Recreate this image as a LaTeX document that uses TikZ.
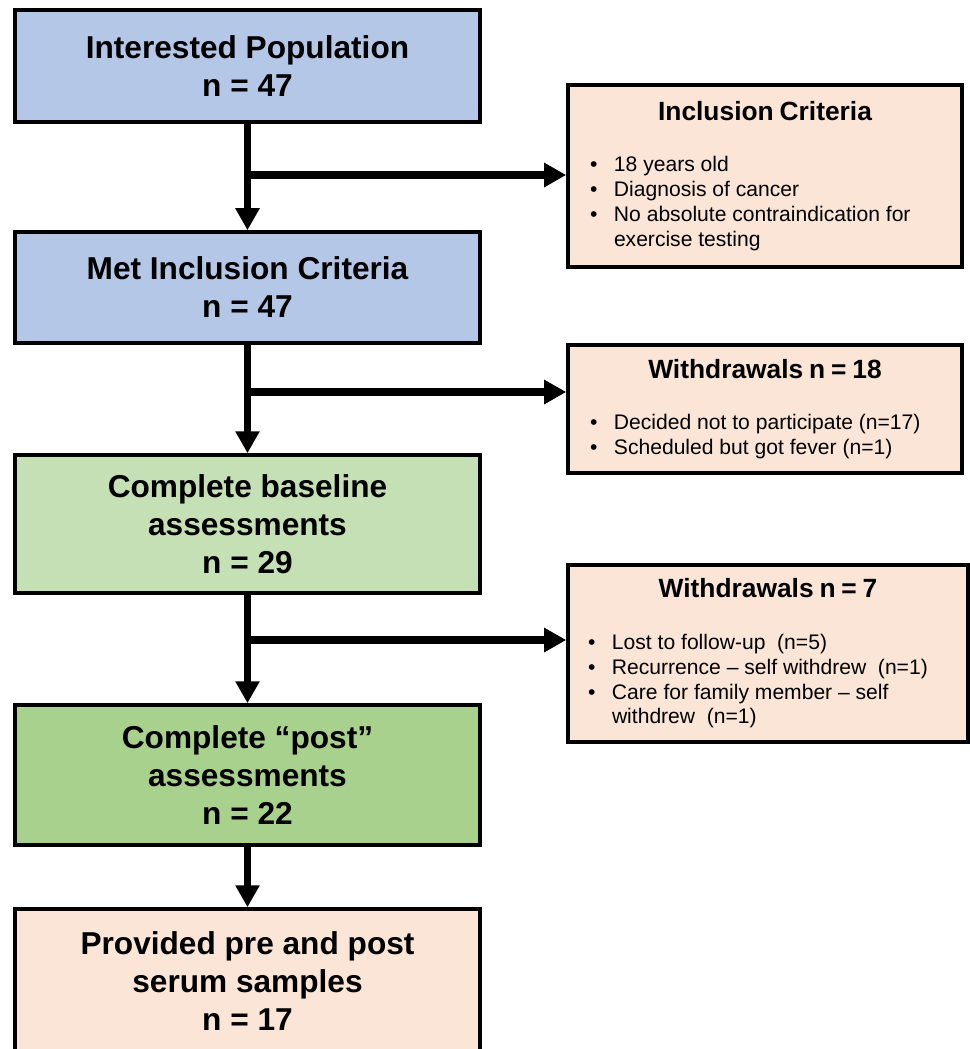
\documentclass[tikz,border=0pt]{standalone}
\usepackage{fontspec}
\setmainfont{Liberation Sans}
\usepackage{tikz}
\usetikzlibrary{arrows.meta}
\definecolor{popblue}{RGB}{180,199,231}
\definecolor{basegreen}{RGB}{197,224,180}
\definecolor{postgreen}{RGB}{169,209,142}
\definecolor{peach}{RGB}{251,229,214}
\newcommand{\crit}[1]{\par\noindent\hangindent=0.58cm\hangafter=1\makebox[0.58cm][l]{\hspace{0.1cm}\textbullet}#1}
\newcommand{\sidehead}[1]{{\centering\bfseries\fontsize{15}{18}\selectfont #1\par}\vspace{15pt}\fontsize{12}{14.2}\selectfont\raggedright}

\begin{document}
\begin{tikzpicture}[
	box/.style={draw, line width=2pt, minimum width=9.3cm, align=center, font=\bfseries\fontsize{18}{21.6}\selectfont},
	side/.style={draw, line width=2pt, fill=peach, inner xsep=0.3cm},
	flow/.style={line width=4pt, -{Triangle[width=0.46cm,length=0.44cm]}},]

    \useasboundingbox (0,0) rectangle (19.4,-20.98);

    \node[box, fill=popblue, minimum height=2.24cm] (pop) at (4.95,-1.32) {Interested Population\\n = 47};
    \node[box, fill=popblue, minimum height=2.22cm] (met) at (4.95,-5.75) {Met Inclusion Criteria\\n = 47};
    \node[box, fill=basegreen, minimum height=2.76cm] (base) at (4.95,-10.48) {Complete baseline\\assessments\\n = 29};
    \node[box, fill=postgreen, minimum height=2.8cm] (post) at (4.95,-15.5) {Complete “post”\\assessments\\n = 22};
    \node[box, fill=peach, minimum height=2.88cm] (serum) at (4.95,-19.62) {Provided pre and post\\serum samples\\n = 17};

    \node[side, minimum width=7.88cm, minimum height=3.64cm, text width=7.2cm] (incl) at (15.3,-3.52) {\sidehead{Inclusion Criteria}
	\crit{18 years old}
	\crit{Diagnosis of cancer}
	\crit{No absolute contraindication for\newline exercise testing}\par};
    \node[side, minimum width=7.88cm, minimum height=2.56cm, text width=7.2cm] (wdA) at (15.3,-8.18) {\sidehead{Withdrawals n = 18}
	\crit{Decided not to participate (n=17)}
	\crit{Scheduled but got fever (n=1)}\par};
    \node[side, minimum width=8cm, minimum height=3.54cm, text width=7.4cm] (wdB) at (15.36,-13.07) {\sidehead{Withdrawals n = 7}
	\crit{Lost to follow-up\ \ (n=5)}
	\crit{Recurrence -- self withdrew\ \ (n=1)}
	\crit{Care for family member -- self\newline withdrew\ \ (n=1)}\par};

    \coordinate (brA) at (4.95,-3.5);
    \coordinate (brB) at (4.95,-7.84);
    \coordinate (brC) at (4.95,-12.8);

    \draw[flow] (pop) -- (met);
    \draw[flow] (met) -- (base);
    \draw[flow] (base) -- (post);
    \draw[flow] (post) -- (serum);
    \draw[flow] (brA) -- (brA -| incl.west);
    \draw[flow] (brB) -- (brB -| wdA.west);
    \draw[flow] (brC) -- (brC -| wdB.west);
\end{tikzpicture}
\end{document}
